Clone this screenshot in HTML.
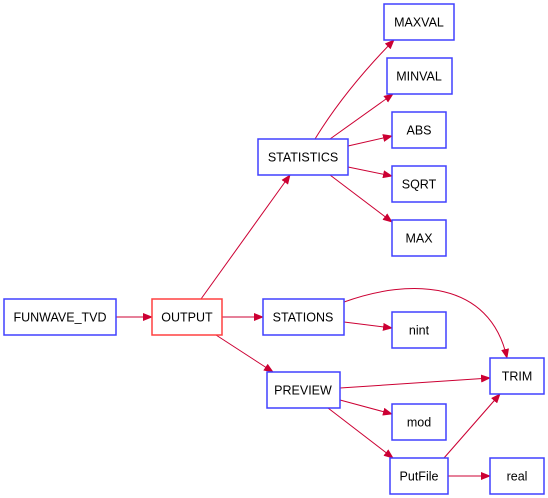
<!DOCTYPE html>
<html><head><meta charset="utf-8"><style>
body{margin:0;background:#fff;}
svg{display:block;}
text{font-family:"Liberation Sans",sans-serif;font-size:12.5px;fill:#000;text-anchor:middle;}
.n{fill:#fff;stroke:#4040ff;stroke-width:1.5;}
.r{fill:#fff;stroke:#ff4040;stroke-width:1.5;}
.e{fill:none;stroke:#cc0033;stroke-width:1;}
</style></head><body>
<svg width="548" height="498" viewBox="0 0 548 498">
<defs><marker id="a" markerWidth="10" markerHeight="8" refX="9" refY="4" orient="auto" markerUnits="userSpaceOnUse"><path d="M0,0 L10,4 L0,8 z" fill="#cc0033"/></marker></defs>
<g class="e" marker-end="url(#a)">
<path d="M116,317 L152,317"/>
<path d="M201,299 L290,175"/>
<path d="M222,317 L263,317"/>
<path d="M216,335 L273,372"/>
<path d="M315,139 Q345,90 394,40"/>
<path d="M330,139 L393,94"/>
<path d="M348,146 L392,136"/>
<path d="M348,167 L392,176"/>
<path d="M330,175 L392,222"/>
<path d="M344,302 C410,278 490,280 507,358"/>
<path d="M344,322 L392,328"/>
<path d="M340,388 L490,378"/>
<path d="M340,400 L392,414"/>
<path d="M328,408 L393,458"/>
<path d="M444,458 L500,394"/>
<path d="M448,476 L490,476"/>
</g>
<rect class="n" x="4" y="299" width="112" height="36"/><text x="60" y="321.5">FUNWAVE_TVD</text>
<rect class="r" x="152" y="299" width="70" height="36"/><text x="187" y="321.5">OUTPUT</text>
<rect class="n" x="258" y="139" width="90" height="36"/><text x="303" y="161.5">STATISTICS</text>
<rect class="n" x="263" y="299" width="81" height="36"/><text x="303" y="321.5">STATIONS</text>
<rect class="n" x="267" y="372" width="73" height="36"/><text x="303" y="394.5">PREVIEW</text>
<rect class="n" x="384" y="4" width="70" height="36"/><text x="419" y="26.5">MAXVAL</text>
<rect class="n" x="387" y="58" width="65" height="36"/><text x="419" y="80.5">MINVAL</text>
<rect class="n" x="392" y="112" width="54" height="36"/><text x="419" y="134.5">ABS</text>
<rect class="n" x="392" y="166" width="54" height="36"/><text x="419" y="188.5">SQRT</text>
<rect class="n" x="392" y="220" width="54" height="36"/><text x="419" y="242.5">MAX</text>
<rect class="n" x="392" y="312" width="54" height="36"/><text x="419" y="334.5">nint</text>
<rect class="n" x="490" y="358" width="54" height="36"/><text x="517" y="380.5">TRIM</text>
<rect class="n" x="392" y="404" width="54" height="36"/><text x="419" y="426.5">mod</text>
<rect class="n" x="390" y="458" width="58" height="36"/><text x="419" y="480.5">PutFile</text>
<rect class="n" x="490" y="458" width="54" height="36"/><text x="517" y="480.5">real</text>
</svg>
</body></html>
